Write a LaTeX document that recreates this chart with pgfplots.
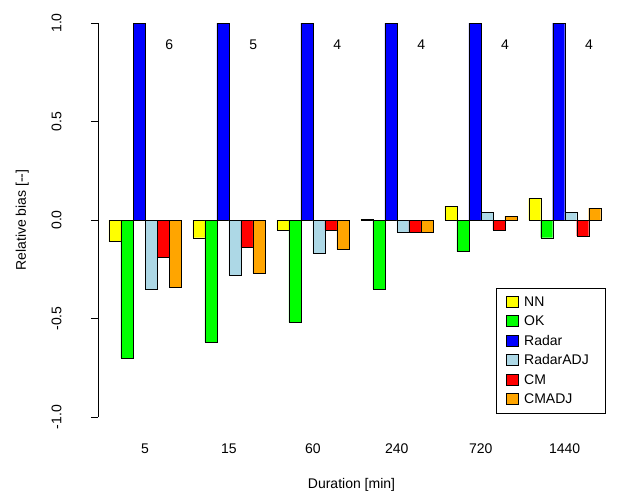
\documentclass[border=0pt]{standalone}
\usepackage{pgfplots}
\pgfplotsset{compat=1.18}
\usepackage{fontspec}
\setmainfont{Liberation Sans}
\definecolor{cyel}{HTML}{FFFF00}
\definecolor{cgrn}{HTML}{00FF00}
\definecolor{cblu}{HTML}{0000FF}
\definecolor{clbl}{HTML}{ADD8E6}
\definecolor{cred}{HTML}{FF0000}
\definecolor{corg}{HTML}{FFA500}
\begin{document}
\begin{tikzpicture}[font=\fontsize{14}{16}\selectfont]
\begin{axis}[at={(0,0)},anchor=south west,scale only axis,width=507pt,height=394pt,
  xmin=-0.56,xmax=5.48,ymin=-1,ymax=1,
  axis lines=left, x axis line style={draw=none}, y axis line style={-},
  xtick={0,1,2,3,4,5}, xticklabels={5,15,60,240,720,1440},
  xtick style={draw=none}, xticklabel style={yshift=-16pt},
  ytick={-1,-0.5,0,0.5,1}, yticklabel style={rotate=90,yshift=26pt,/pgf/number format/fixed,/pgf/number format/precision=1,/pgf/number format/fixed zerofill},
  /pgf/number format/assume math mode=true,
  tick align=outside, major tick length=7pt, ytick style={black},
  xlabel={Duration [min]}, ylabel={Relative bias [-{}-]},
  xlabel style={yshift=-18pt}, ylabel style={yshift=16pt},
  ybar=0pt, bar width=0.143,
  legend cell align=left,
  legend style={at={(1.0,0.01)},anchor=south east,draw=black,row sep=4pt,inner xsep=10pt,inner ysep=6pt,
    nodes={inner xsep=6pt}},
  legend image code/.code={\draw[#1,draw=black] (0pt,-5pt) rectangle (12pt,6pt);},
]
\addplot[fill=cyel,draw=black] coordinates {(0,-0.11)(1,-0.09)(2,-0.05)(3,0.005)(4,0.07)(5,0.11)};
\addplot[fill=cgrn,draw=black] coordinates {(0,-0.70)(1,-0.62)(2,-0.52)(3,-0.35)(4,-0.16)(5,-0.09)};
\addplot[fill=cblu,draw=black] coordinates {(0,1.0)(1,1.0)(2,1.0)(3,1.0)(4,1.0)(5,1.0)};
\addplot[fill=clbl,draw=black] coordinates {(0,-0.35)(1,-0.28)(2,-0.17)(3,-0.06)(4,0.04)(5,0.04)};
\addplot[fill=cred,draw=black] coordinates {(0,-0.19)(1,-0.14)(2,-0.05)(3,-0.06)(4,-0.05)(5,-0.08)};
\addplot[fill=corg,draw=black] coordinates {(0,-0.34)(1,-0.27)(2,-0.15)(3,-0.06)(4,0.02)(5,0.06)};
\legend{NN,OK,Radar,RadarADJ,CM,CMADJ}
\node at (axis cs:0.29,0.89) {6};
\node at (axis cs:1.29,0.89) {5};
\node at (axis cs:2.29,0.89) {4};
\node at (axis cs:3.29,0.89) {4};
\node at (axis cs:4.29,0.89) {4};
\node at (axis cs:5.29,0.89) {4};
\end{axis}
\useasboundingbox (-98pt,-79pt) rectangle (522pt,417pt);
\end{tikzpicture}
\end{document}
